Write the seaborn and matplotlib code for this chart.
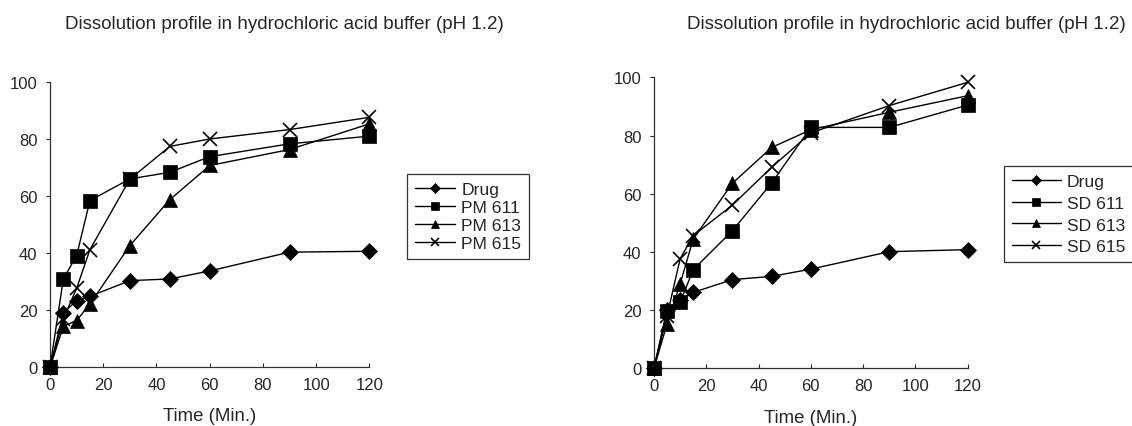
import numpy as np
import pandas as pd
import seaborn as sns
import matplotlib
matplotlib.use("Agg")
import matplotlib.pyplot as plt

time_min = [0, 5, 10, 15, 30, 45, 60, 90, 120]

# physical mixtures (left)
pm_drug = [0, 19.1, 23.4, 24.9, 30.4, 31.0, 33.8, 40.4, 40.7]
pm_611 = [0, 31.0, 39.2, 58.5, 66.1, 68.4, 73.9, 78.4, 81.1]
pm_613 = [0, 14.4, 16.4, 22.2, 42.7, 58.8, 70.8, 76.4, 85.4]
pm_615 = [0, 17.0, 27.7, 41.3, 66.0, 77.5, 80.1, 83.4, 87.7]

# solid dispersions (right)
sd_drug = [0, 20.0, 23.5, 26.1, 30.5, 31.6, 34.1, 40.1, 40.8]
sd_611 = [0, 19.8, 22.7, 33.9, 47.3, 63.7, 82.8, 82.8, 90.5]
sd_613 = [0, 15.2, 29.0, 44.4, 63.6, 75.9, 82.0, 88.0, 93.7]
sd_615 = [0, 18.0, 37.6, 45.6, 56.1, 69.1, 80.9, 90.3, 98.3]

pm_names = ['Drug', 'PM 611', 'PM 613', 'PM 615']
sd_names = ['Drug', 'SD 611', 'SD 613', 'SD 615']
title = 'Dissolution profile in hydrochloric acid buffer (pH 1.2)'

def long_df(names, series):
    rows = []
    for n, s in zip(names, series):
        for t, v in zip(time_min, s):
            rows.append({'time': t, 'release': v, 'sample': n})
    return pd.DataFrame(rows)

sns.set_style("white")
plt.rcParams['font.family'] = ['Liberation Sans', 'DejaVu Sans']

marker_style = [('D', 8), ('s', 10), ('^', 10), ('x', 10.5)]

fig = plt.figure(figsize=(11.32, 4.27), dpi=100)
ax1 = fig.add_axes([0.0442, 0.1375, 0.2821, 0.6675])
ax2 = fig.add_axes([0.5777, 0.135, 0.2772, 0.6815])

def draw(ax, names, series, leg_xy, spacing, hlen):
    df = long_df(names, series)
    for (mk, ms), n in zip(marker_style, names):
        sub = df[df['sample'] == n]
        sns.lineplot(data=sub, x='time', y='release', ax=ax, color='black',
                     marker=mk, markersize=ms, linewidth=1.0, label=n,
                     markeredgewidth=1.2 if mk == 'x' else 0.5,
                     markeredgecolor='black', clip_on=False, zorder=3)
    ax.set_xlim(0, 120)
    ax.set_ylim(0, 100)
    ax.set_xticks(range(0, 121, 20))
    ax.set_yticks(range(0, 101, 20))
    ax.tick_params(axis='x', direction='in', length=3, width=0.8, labelsize=12, pad=7)
    ax.tick_params(axis='y', direction='out', length=3, width=0.8, labelsize=12, pad=6)
    ax.tick_params(left=True, bottom=True)
    for side in ['top', 'right']:
        ax.spines[side].set_visible(False)
    for side in ['left', 'bottom']:
        ax.spines[side].set_color('#333333')
        ax.spines[side].set_linewidth(0.9)
    ax.set_xlabel('Time (Min.)', fontsize=13.4)
    ax.xaxis.label.set_va('baseline')
    ax.xaxis.set_label_coords(0.5, -0.185)
    ax.set_ylabel('')
    leg = ax.legend(loc='upper left', bbox_to_anchor=leg_xy, bbox_transform=fig.transFigure,
                    fontsize=12.6, frameon=True, fancybox=False, edgecolor='black',
                    markerscale=0.6, handlelength=hlen, borderpad=0.45,
                    labelspacing=spacing, handletextpad=0.35, borderaxespad=0)
    leg.get_frame().set_linewidth(0.9)

draw(ax1, pm_names, [pm_drug, pm_611, pm_613, pm_615], (0.3595, 0.590), 0.16, 2.3)
draw(ax2, sd_names, [sd_drug, sd_611, sd_613, sd_615], (0.8869, 0.609), 0.37, 2.8)

fig.text(0.251, 0.933, title, ha='center', va='baseline', fontsize=13.5)
fig.text(0.801, 0.933, title, ha='center', va='baseline', fontsize=13.5)

fig.savefig('out.png', dpi=100)
